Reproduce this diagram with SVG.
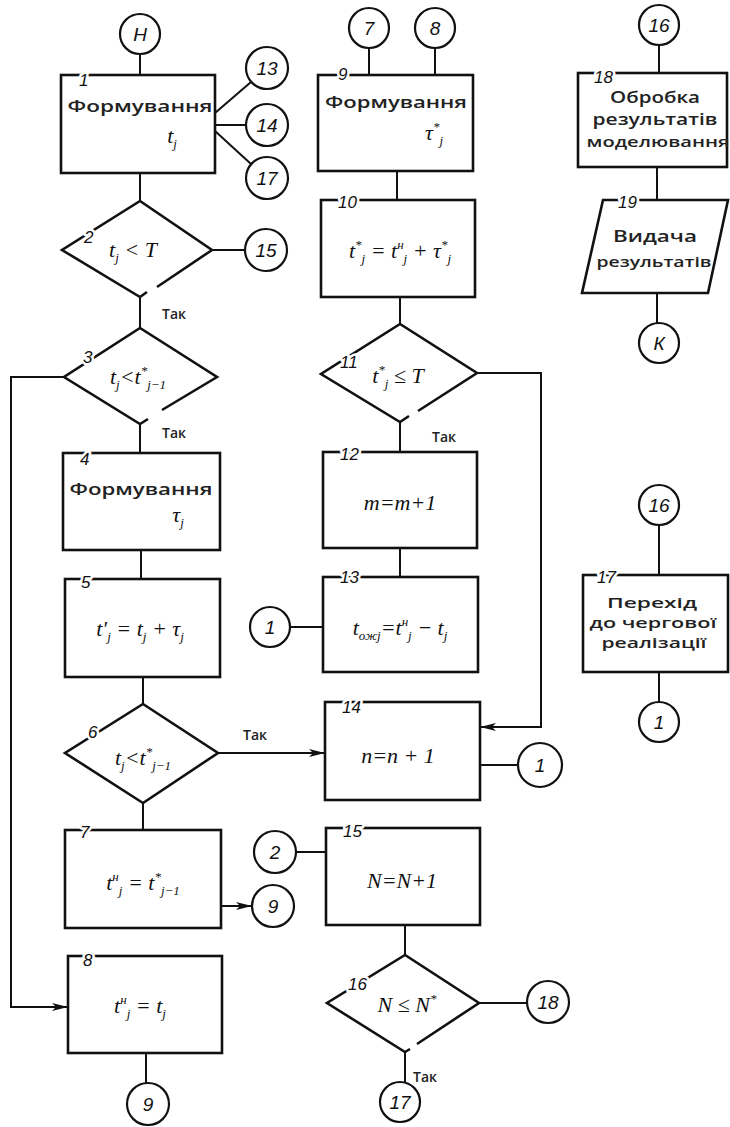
<svg xmlns="http://www.w3.org/2000/svg" width="730" height="1127" viewBox="0 0 730 1127">
<defs>
<marker id="arr" viewBox="0 0 16 8" refX="16" refY="4" markerWidth="16" markerHeight="8" markerUnits="userSpaceOnUse" orient="auto"><path d="M0,0 L16,4 L0,8 L4,4 z" fill="#111"/></marker>
</defs>
<style>
.bx{fill:#fff;stroke:#111;stroke-width:2.6;stroke-linejoin:miter}
.dm{fill:none;stroke:#111;stroke-width:2.6}
.cn{fill:none;stroke:#111;stroke-width:2}
.ci{fill:#fff;stroke:#111;stroke-width:2.2}
.num{font-family:"Liberation Sans",sans-serif;font-style:italic;font-size:17px;fill:#111;stroke:#fff;stroke-width:5px;paint-order:stroke;stroke-linejoin:round}
.cl{font-family:"Liberation Sans",sans-serif;font-style:italic;font-size:19px;fill:#111;text-anchor:middle}
.ua{font-family:"Open Sans","DejaVu Sans",sans-serif;font-weight:600;fill:#222;text-anchor:middle}
.m{font-family:"Liberation Serif",serif;font-style:italic;font-size:22px;fill:#111;text-anchor:middle}
.s{font-size:13px}
.tk{font-family:"Open Sans","DejaVu Sans",sans-serif;font-weight:600;font-size:14px;fill:#222}
</style>
<rect width="730" height="1127" fill="#fff"/>

<!-- connectors -->
<g id="connectors">
  <!-- left column -->
  <path class="cn" d="M140,54 V75"/>
  <path class="cn" d="M140,173 V201"/>
  <path class="cn" d="M215,113 L251,82"/>
  <path class="cn" d="M215,125 H246"/>
  <path class="cn" d="M215,131 L251,164"/>
  <path class="cn" d="M212,250 H245"/>
  <path class="cn" d="M140,297 V328"/>
  <path class="cn" d="M140,424 V453"/>
  <path class="cn" d="M141,550 V579"/>
  <path class="cn" d="M143,677 V704"/>
  <path class="cn" d="M143,803 V830"/>
  <path class="cn" d="M64,377 H11 V1007 H68" marker-end="url(#arr)"/>
  <path class="cn" d="M218,753 H325" marker-end="url(#arr)"/>
  <path class="cn" d="M221,906 H252" marker-end="url(#arr)"/>
  <path class="cn" d="M146,1053 V1083"/>
  <!-- middle column -->
  <path class="cn" d="M369,48 V75"/>
  <path class="cn" d="M435,48 V75"/>
  <path class="cn" d="M397,171 V200"/>
  <path class="cn" d="M400,297 V324"/>
  <path class="cn" d="M400,422 V452"/>
  <path class="cn" d="M400,548 V577"/>
  <path class="cn" d="M290,627 H323"/>
  <path class="cn" d="M477,373 H541 V727 H480" marker-end="url(#arr)"/>
  <path class="cn" d="M480,765 H518"/>
  <path class="cn" d="M296,852 H326"/>
  <path class="cn" d="M405,925 V955"/>
  <path class="cn" d="M479,1003 H527"/>
  <path class="cn" d="M405,1052 V1082"/>
  <!-- right column -->
  <path class="cn" d="M659,45 V73"/>
  <path class="cn" d="M657,167 V200"/>
  <path class="cn" d="M657,293 V323"/>
  <path class="cn" d="M659,525 V575"/>
  <path class="cn" d="M659,672 V702"/>
</g>

<!-- start / end and link circles -->
<g id="c-start"><circle class="ci" cx="140" cy="34" r="20"/><text class="cl" x="140" y="41">Н</text></g>
<g id="c-13"><circle class="ci" cx="267" cy="68" r="21"/><text class="cl" x="267" y="75">13</text></g>
<g id="c-14"><circle class="ci" cx="267" cy="125" r="21"/><text class="cl" x="267" y="132">14</text></g>
<g id="c-17a"><circle class="ci" cx="267" cy="178" r="21"/><text class="cl" x="267" y="185">17</text></g>
<g id="c-15"><circle class="ci" cx="266" cy="250" r="21"/><text class="cl" x="266" y="257">15</text></g>
<g id="c-7"><circle class="ci" cx="369" cy="28" r="20"/><text class="cl" x="369" y="35">7</text></g>
<g id="c-8"><circle class="ci" cx="435" cy="28" r="20"/><text class="cl" x="435" y="35">8</text></g>
<g id="c-1a"><circle class="ci" cx="270" cy="627" r="20"/><text class="cl" x="270" y="634">1</text></g>
<g id="c-1b"><circle class="ci" cx="540" cy="765" r="22"/><text class="cl" x="540" y="772">1</text></g>
<g id="c-2"><circle class="ci" cx="275" cy="852" r="21"/><text class="cl" x="275" y="859">2</text></g>
<g id="c-9a"><circle class="ci" cx="273" cy="906" r="21"/><text class="cl" x="273" y="913">9</text></g>
<g id="c-9b"><circle class="ci" cx="148" cy="1104" r="21"/><text class="cl" x="148" y="1111">9</text></g>
<g id="c-18"><circle class="ci" cx="548" cy="1002" r="21"/><text class="cl" x="548" y="1009">18</text></g>
<g id="c-17b"><circle class="ci" cx="400" cy="1102" r="20"/><text class="cl" x="400" y="1109">17</text></g>
<g id="c-16a"><circle class="ci" cx="659" cy="25" r="20"/><text class="cl" x="659" y="32">16</text></g>
<g id="c-end"><circle class="ci" cx="659" cy="343" r="20"/><text class="cl" x="659" y="350">К</text></g>
<g id="c-16b"><circle class="ci" cx="659" cy="505" r="20"/><text class="cl" x="659" y="512">16</text></g>
<g id="c-1c"><circle class="ci" cx="659" cy="722" r="20"/><text class="cl" x="659" y="729">1</text></g>

<!-- left column blocks -->
<g id="n1">
  <rect class="bx" x="61" y="75" width="154" height="98"/>
  <text class="num" x="79" y="86">1</text>
  <text class="ua" x="140" y="112" font-size="17" textLength="145" lengthAdjust="spacingAndGlyphs">Формування</text>
  <text class="m" x="172" y="143">t<tspan class="s" dy="5">j</tspan></text>
</g>
<g id="n2">
  <path class="dm" d="M157,287 L212,250 L140,201 L62,250 L140,297 L147,292"/>
  <text class="num" x="84" y="243">2</text>
  <text class="m" x="133" y="257">t<tspan class="s" dy="5">j</tspan><tspan dy="-5"> &lt; T</tspan></text>
  <text class="tk" x="162" y="319">Так</text>
</g>
<g id="n3">
  <path class="dm" d="M162,410 L217,377 L140,328 L64,377 L140,424 L148,419"/>
  <text class="num" x="83" y="363">3</text>
  <text class="m" x="138" y="384">t<tspan class="s" dy="5">j</tspan><tspan dy="-5">&lt;t</tspan><tspan class="s" dy="-9">*</tspan><tspan class="s" dy="14">j−1</tspan></text>
  <text class="tk" x="162" y="438">Так</text>
</g>
<g id="n4">
  <rect class="bx" x="63" y="453" width="157" height="97"/>
  <text class="num" x="80" y="465">4</text>
  <text class="ua" x="141" y="495" font-size="17" textLength="143" lengthAdjust="spacingAndGlyphs">Формування</text>
  <text class="m" x="178" y="522">τ<tspan class="s" dy="5">j</tspan></text>
</g>
<g id="n5">
  <rect class="bx" x="65" y="579" width="155" height="98"/>
  <text class="num" x="81" y="588">5</text>
  <text class="m" x="140" y="636">t′<tspan class="s" dy="5">j</tspan><tspan dy="-5"> = t</tspan><tspan class="s" dy="5">j</tspan><tspan dy="-5"> + τ</tspan><tspan class="s" dy="5">j</tspan></text>
</g>
<g id="n6">
  <polygon class="dm" points="143,704 218,753 143,803 65,753"/>
  <text class="num" x="88" y="738">6</text>
  <text class="m" x="143" y="765">t<tspan class="s" dy="5">j</tspan><tspan dy="-5">&lt;t</tspan><tspan class="s" dy="-9">*</tspan><tspan class="s" dy="14">j−1</tspan></text>
  <text class="tk" x="243" y="740">Так</text>
</g>
<g id="n7">
  <rect class="bx" x="65" y="830" width="156" height="98"/>
  <text class="num" x="80" y="838">7</text>
  <text class="m" x="143" y="890">t<tspan class="s" dy="-9">н</tspan><tspan class="s" dy="14">j</tspan><tspan dy="-5"> = t</tspan><tspan class="s" dy="-9">*</tspan><tspan class="s" dy="14">j−1</tspan></text>
</g>
<g id="n8">
  <rect class="bx" x="68" y="956" width="154" height="97"/>
  <text class="num" x="83" y="966">8</text>
  <text class="m" x="140" y="1013">t<tspan class="s" dy="-9">н</tspan><tspan class="s" dy="14">j</tspan><tspan dy="-5"> = t</tspan><tspan class="s" dy="5">j</tspan></text>
</g>

<!-- middle column blocks -->
<g id="n9">
  <rect class="bx" x="318" y="75" width="155" height="96"/>
  <text class="num" x="338" y="80">9</text>
  <text class="ua" x="396" y="108" font-size="17" textLength="142" lengthAdjust="spacingAndGlyphs">Формування</text>
  <text class="m" x="434" y="140">τ<tspan class="s" dy="-9">*</tspan><tspan class="s" dy="14">j</tspan></text>
</g>
<g id="n10">
  <rect class="bx" x="321" y="200" width="154" height="97"/>
  <text class="num" x="338" y="208">10</text>
  <text class="m" x="400" y="258">t<tspan class="s" dy="-9">*</tspan><tspan class="s" dy="14">j</tspan><tspan dy="-5"> = t</tspan><tspan class="s" dy="-9">н</tspan><tspan class="s" dy="14">j</tspan><tspan dy="-5"> + τ</tspan><tspan class="s" dy="-9">*</tspan><tspan class="s" dy="14">j</tspan></text>
</g>
<g id="n11">
  <path class="dm" d="M418,411 L477,373 L400,324 L321,374 L400,422 L409,416"/>
  <text class="num" x="340" y="368">11</text>
  <text class="m" x="398" y="383">t<tspan class="s" dy="-9">*</tspan><tspan class="s" dy="14">j</tspan><tspan dy="-5"> ≤ T</tspan></text>
  <text class="tk" x="432" y="442">Так</text>
</g>
<g id="n12">
  <rect class="bx" x="323" y="452" width="154" height="96"/>
  <text class="num" x="340" y="460">12</text>
  <text class="m" x="400" y="510">m=m+1</text>
</g>
<g id="n13">
  <rect class="bx" x="323" y="577" width="155" height="95"/>
  <text class="num" x="340" y="583">13</text>
  <text class="m" x="400" y="635">t<tspan class="s" dy="5">ожj</tspan><tspan dy="-5">=t</tspan><tspan class="s" dy="-9">н</tspan><tspan class="s" dy="14">j</tspan><tspan dy="-5"> − t</tspan><tspan class="s" dy="5">j</tspan></text>
</g>
<g id="n14">
  <rect class="bx" x="325" y="702" width="155" height="98"/>
  <text class="num" x="342" y="713">14</text>
  <text class="m" x="398" y="763">n=n + 1</text>
</g>
<g id="n15">
  <rect class="bx" x="326" y="828" width="154" height="97"/>
  <text class="num" x="343" y="837">15</text>
  <text class="m" x="402" y="888">N=N+1</text>
</g>
<g id="n16">
  <path class="dm" d="M417,1044 L479,1003 L405,955 L327,1003 L405,1052 L410,1049"/>
  <text class="num" x="348" y="990">16</text>
  <text class="m" x="407" y="1012">N ≤ N<tspan class="s" dy="-9">*</tspan></text>
  <text class="tk" x="413" y="1082">Так</text>
</g>

<!-- right column blocks -->
<g id="n18">
  <rect class="bx" x="578" y="73" width="149" height="94"/>
  <text class="num" x="594" y="83">18</text>
  <text class="ua" x="655" y="103" font-size="17" textLength="90" lengthAdjust="spacingAndGlyphs">Обробка</text>
  <text class="ua" x="655" y="125" font-size="17" textLength="125" lengthAdjust="spacingAndGlyphs">результатів</text>
  <text class="ua" x="658" y="147" font-size="14" textLength="143" lengthAdjust="spacingAndGlyphs">моделювання</text>
</g>
<g id="n19">
  <polygon class="bx" points="603,200 728,200 708,293 582,293"/>
  <text class="num" x="618" y="208">19</text>
  <text class="ua" x="655" y="242" font-size="17" textLength="84" lengthAdjust="spacingAndGlyphs">Видача</text>
  <text class="ua" x="654" y="267" font-size="14" textLength="115" lengthAdjust="spacingAndGlyphs">результатів</text>
</g>
<g id="n17">
  <rect class="bx" x="583" y="575" width="145" height="97"/>
  <text class="num" x="597" y="583">17</text>
  <text class="ua" x="652" y="608" font-size="15" textLength="90" lengthAdjust="spacingAndGlyphs">Перехід</text>
  <text class="ua" x="653" y="628" font-size="15" textLength="127" lengthAdjust="spacingAndGlyphs">до чергової</text>
  <text class="ua" x="654" y="648" font-size="15" textLength="105" lengthAdjust="spacingAndGlyphs">реалізації</text>
</g>
</svg>
